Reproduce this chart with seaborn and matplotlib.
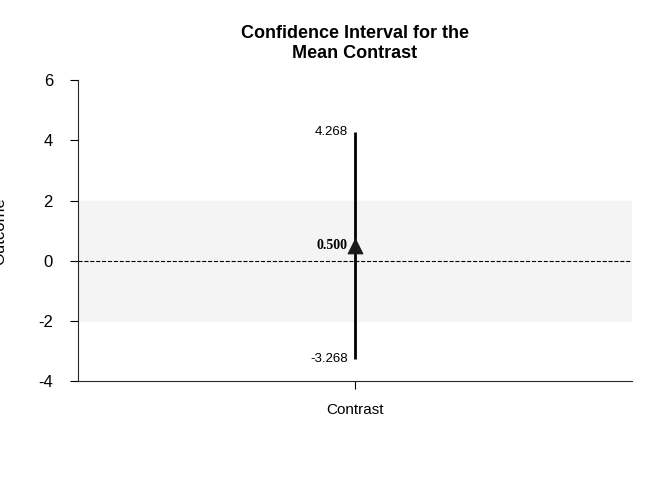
import matplotlib
matplotlib.use("Agg")
import matplotlib.pyplot as plt
import seaborn as sns
import pandas as pd

categories = ["Contrast"]
means = [0.500]
lowers = [-3.268]
uppers = [4.268]
band = [-2, 2]

sns.set_style("ticks")
plt.rcParams['font.family'] = ['Liberation Sans', 'DejaVu Sans']
plt.rcParams['axes.unicode_minus'] = False
plt.rcParams['text.color'] = 'black'
plt.rcParams['axes.labelcolor'] = 'black'
plt.rcParams['xtick.color'] = 'black'
plt.rcParams['ytick.color'] = 'black'

df = pd.DataFrame({"cat": categories, "mean": means, "lo": lowers, "hi": uppers})

fig = plt.figure(figsize=(6.72, 4.8), dpi=100)
ax = fig.add_axes([0.116, 0.206, 0.824, 0.627])

ax.axhspan(band[0], band[1], color="#f4f4f4", zorder=0)
ax.axhline(0, color="black", linestyle="--", linewidth=0.8)
ax.vlines(0, df["lo"], df["hi"], color="black", linewidth=2)
sns.scatterplot(x=[0], y=df["mean"], marker="^", s=110, color="#1a1a1a", ax=ax, zorder=5, edgecolor="#1a1a1a")

ax.text(-0.025, df["hi"][0], f"{uppers[0]:.3f}", ha="right", va="center", fontsize=9.5)
ax.text(-0.025, df["lo"][0], f"{lowers[0]:.3f}", ha="right", va="center", fontsize=9.5)
ax.text(-0.025, df["mean"][0], f"{means[0]:.3f}", ha="right", va="center", fontsize=10,
        fontweight="bold", family=["Liberation Serif", "DejaVu Serif"])

ax.set_xlim(-1, 1)
ax.set_ylim(-4, 6)
ax.set_yticks([-4, -2, 0, 2, 4, 6])
ax.set_xticks([0])
ax.set_xticklabels(categories)
ax.tick_params(axis="y", labelsize=12, pad=12, length=6)
ax.tick_params(axis="x", labelsize=11, pad=10, length=6)
ax.set_ylabel("Outcome", fontsize=12, labelpad=22)
ax.set_title("Confidence Interval for the\nMean Contrast", fontsize=13, fontweight="bold", pad=16)
ax.spines["top"].set_visible(False)
ax.spines["right"].set_visible(False)

fig.savefig("out.png", dpi=100)
